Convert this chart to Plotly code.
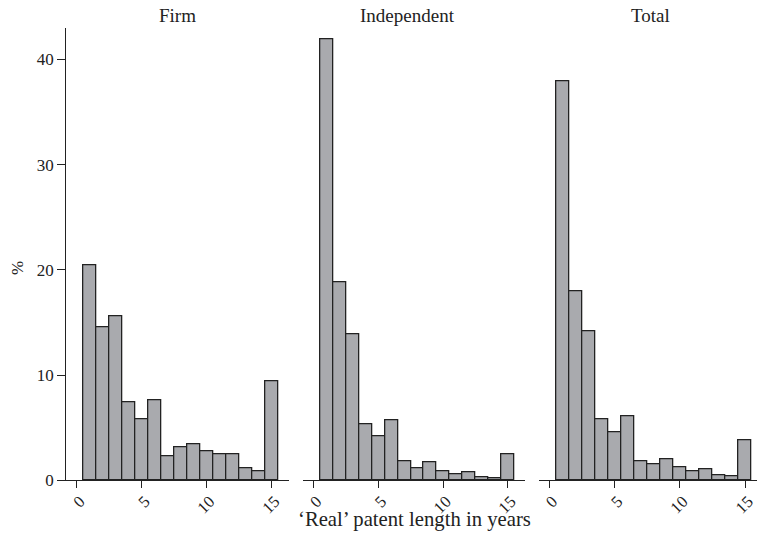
import plotly.graph_objects as go

years = list(range(1, 16))
firm = [20.4, 14.5, 15.6, 7.4, 5.8, 7.6, 2.3, 3.1, 3.4, 2.8, 2.5, 2.5, 1.15, 0.9, 9.4]
independent = [41.9, 18.8, 13.9, 5.35, 4.2, 5.7, 1.8, 1.15, 1.7, 0.9, 0.55, 0.72, 0.25, 0.2, 2.5]
total = [37.9, 18.0, 14.2, 5.75, 4.55, 6.05, 1.85, 1.55, 2.0, 1.25, 0.9, 1.0, 0.47, 0.34, 3.76]
panel_titles = ["Firm", "Independent", "Total"]
xtick_vals = [0, 5, 10, 15]
ytick_vals = [0, 10, 20, 30, 40]
x_title = "\u2018Real\u2019 patent length in years"
y_title = "%"

W, H = 757, 543
FONT = "Liberation Serif, Times New Roman, serif"
TXT = "#222222"
FILL = "#a9aaae"
EDGE = "#222222"

fig = go.Figure()
series = [firm, independent, total]
for i, vals in enumerate(series):
    ax = "" if i == 0 else str(i + 1)
    fig.add_trace(go.Bar(
        x=years, y=vals, width=1.0,
        marker=dict(color=FILL, line=dict(color=EDGE, width=1.3)),
        xaxis="x" + ax, yaxis="y" + ax, showlegend=False,
    ))

y0 = 1 - 480.3 / H
y1 = 1 - 28.3 / H
doms = [(66.3 / W, 288.7 / W), (303.3 / W, 525.3 / W), (539.3 / W, 1.0)]
xranges = [[-0.82, 16.3], [-0.8, 16.34], [-0.79, 15.91]]

common_x = dict(
    tickvals=xtick_vals, tickangle=-45, ticks="outside", ticklen=7, tickwidth=1.2,
    tickcolor=EDGE, showline=True, linecolor=EDGE, linewidth=1.2, showgrid=False,
    zeroline=False, tickfont=dict(family=FONT, size=16.5, color=TXT), automargin=False,
    ticklabelshift=3, ticklabelstandoff=-3, ticklabeloverflow="allow", fixedrange=True,
)
layout = dict(
    width=W, height=H, margin=dict(l=0, r=0, t=0, b=0),
    paper_bgcolor="white", plot_bgcolor="white", bargap=0,
    font=dict(family=FONT, color=TXT),
)
for i in range(3):
    ax = "" if i == 0 else str(i + 1)
    xa = dict(common_x, domain=list(doms[i]), range=xranges[i], anchor="y" + ax)
    ya = dict(domain=[y0, y1], range=[0, 42.95], anchor="x" + ax, showgrid=False,
              zeroline=False, automargin=False, fixedrange=True)
    if i == 0:
        ya.update(tickvals=ytick_vals, ticks="outside", ticklen=8, tickwidth=1.2,
                  tickcolor=EDGE, showline=True, linecolor=EDGE, linewidth=1.2,
                  tickfont=dict(family=FONT, size=17, color=TXT))
    else:
        ya.update(showticklabels=False, showline=False, ticks="")
    layout["xaxis" + ax] = xa
    layout["yaxis" + ax] = ya

annotations = []
title_x = [177.5, 407, 650]
for t, xp in zip(panel_titles, title_x):
    annotations.append(dict(text=t, x=xp / W, y=1 - 15 / H, xref="paper", yref="paper",
                            showarrow=False, xanchor="center", yanchor="middle",
                            font=dict(family=FONT, size=19, color=TXT)))
annotations.append(dict(text=x_title, x=414 / W, y=1 - 519 / H, xref="paper", yref="paper",
                        showarrow=False, xanchor="center", yanchor="middle",
                        font=dict(family=FONT, size=20.7, color=TXT)))
annotations.append(dict(text=y_title, x=17 / W, y=1 - 268 / H, xref="paper", yref="paper",
                        showarrow=False, xanchor="center", yanchor="middle", textangle=-90,
                        font=dict(family=FONT, size=17, color=TXT)))
layout["annotations"] = annotations

fig.update_layout(**layout)
fig.write_html("out.html", config={"displayModeBar": False},
               post_script="document.body.style.margin='0';document.body.style.overflow='hidden';")
